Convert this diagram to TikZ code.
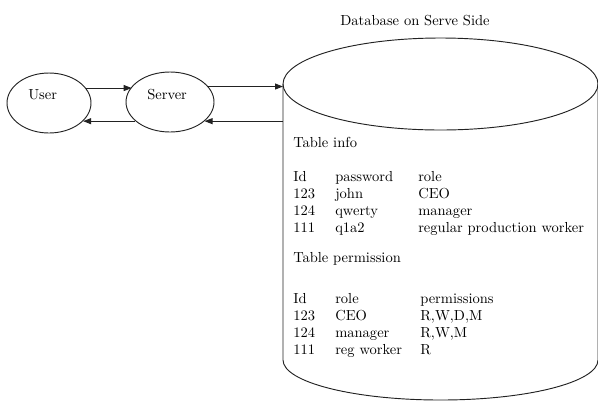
\documentclass[tikz,border=0pt]{standalone}
\usetikzlibrary{shapes.geometric,arrows.meta,calc}
\definecolor{lineblk}{HTML}{222222}

\begin{document}
\begin{tikzpicture}[x=0.75pt,y=-0.75pt,
  font=\rmfamily\fontsize{10.9pt}{14pt}\selectfont,
  oval/.style={draw=lineblk,line width=0.7pt,ellipse,inner sep=0pt},
  cell/.style={anchor=base west,inner sep=0pt},
  arr/.style={-{Triangle[length=6pt,width=4.5pt]},line width=0.7pt,lineblk}]
\useasboundingbox (0,0) rectangle (598,401);
% client side
\node[oval,minimum width=63pt,minimum height=45pt] (user) at (49,103) {};
\node[oval,minimum width=66pt,minimum height=45pt] (server) at (170,102) {};
\node[cell] (usertxt) at (28,99) {User};
\node[cell] (servertxt) at (147,99) {Server};
% database cylinder
\draw[lineblk,line width=0.7pt] (440.5,84) ellipse (157.5 and 46);
\draw[lineblk,line width=0.7pt] (283,84) -- (283,360)
  arc[start angle=180,end angle=0,x radius=157.5,y radius=40] -- (598,84);
\coordinate (dbside) at (283,84);
\node[anchor=base] (dbtitle) at (415,25) {Database on Serve Side};
% arrows
\draw[arr] (user.22) -- (user.22 -| server.158);
\draw[arr] (server.209) -- (server.209 -| user.-28);
\draw[arr] (server.22) -- (server.22 -| dbside);
\draw[arr] (dbside |- server.-29) -- (server.-29);
% table info
\node[cell] (infotitle) at (293,147) {Table info};
\foreach \i/\a/\b/\c in {0/Id/password/role,1/123/john/CEO,2/124/qwerty/manager,3/111/q1a2/regular production worker}{
  \node[cell] (infoid\i) at (293,{181+17*\i}) {\a};
  \node[cell] (infopw\i) at (335,{181+17*\i}) {\b};
  \node[cell] (inforole\i) at (418,{181+17*\i}) {\c};
}
% table permission
\node[cell] (permtitle) at (293,262) {Table permission};
\foreach \i/\a/\b/\c in {0/Id/role/permissions,1/123/CEO/{R,W,D,M},2/124/manager/{R,W,M},3/111/reg worker/R}{
  \node[cell] (permid\i) at (293,{303+17*\i}) {\a};
  \node[cell] (permrole\i) at (335,{303+17*\i}) {\b};
  \node[cell] (permval\i) at (420,{303+17*\i}) {\c};
}
\end{tikzpicture}
\end{document}
